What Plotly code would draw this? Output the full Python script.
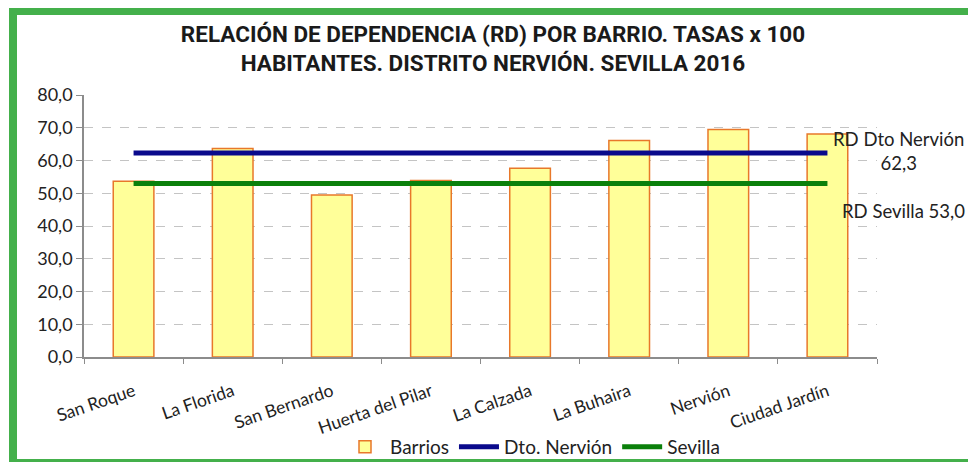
import plotly.graph_objects as go

# data
barrios = ["San Roque", "La Florida", "San Bernardo", "Huerta del Pilar",
           "La Calzada", "La Buhaira", "Nervión", "Ciudad Jardín"]
rd_barrios = [53.7, 63.7, 49.5, 53.9, 57.6, 66.1, 69.5, 68.1]
rd_nervion = 62.3
rd_sevilla = 53.0
y_ticks = [0, 10, 20, 30, 40, 50, 60, 70, 80]
y_tick_labels = ["0,0", "10,0", "20,0", "30,0", "40,0", "50,0", "60,0", "70,0", "80,0"]

# the page body adds an 8px margin, so the figure is a bit smaller than the window
OFF = 8
W, H = 976 - OFF, 462 - OFF
L, R, T, B = 84 - OFF, 99, 95 - OFF, 105
PW, PH = W - L - R, H - T - B


def px_x(x):
    # page pixel -> paper coordinate
    return (x - OFF - L) / PW


def px_y(y):
    return (H - B - (y - OFF)) / PH


font_body = "Lato, Carlito, Calibri, 'Open Sans', sans-serif"
green_frame = "#44B04B"

fig = go.Figure()
fig.add_trace(go.Bar(
    x=barrios, y=rd_barrios, name="Barrios", width=0.41,
    marker=dict(color="#FFFF99", line=dict(color="#E8782A", width=1.5)),
))
fig.add_trace(go.Scatter(
    x=barrios, y=[rd_nervion] * len(barrios), name="Dto. Nervión",
    mode="lines", line=dict(color="#0A0A8C", width=5),
))
fig.add_trace(go.Scatter(
    x=barrios, y=[rd_sevilla] * len(barrios), name="Sevilla",
    mode="lines", line=dict(color="#0B800B", width=5),
))

fig.update_layout(
    width=W, height=H,
    margin=dict(l=L, r=R, t=T, b=B, autoexpand=False),
    paper_bgcolor="white", plot_bgcolor="white",
    font=dict(family=font_body, size=17, color="#222222"),
    title=dict(
        text="RELACIÓN DE DEPENDENCIA (RD) POR BARRIO. TASAS x 100<br>"
             "HABITANTES. DISTRITO NERVIÓN. SEVILLA 2016",
        x=(493 - OFF) / W, xanchor="center", y=1 - (42 - OFF) / H, yanchor="top",
        font=dict(family="'Liberation Sans Narrow', 'Arial Narrow', Roboto, sans-serif",
                  size=22.5, color="#1a1a1a", weight="bold"),
    ),
    showlegend=True,
    legend=dict(orientation="h", x=px_x(533), xanchor="center",
                y=px_y(447), yanchor="middle",
                font=dict(size=19), itemwidth=40, tracegroupgap=0,
                bgcolor="rgba(0,0,0,0)"),
    bargap=0.59,
)
fig.update_xaxes(
    type="category", range=[-0.5, 7.5], automargin=False,
    showline=True, linecolor="#8C8C8C", linewidth=1.5,
    ticks="outside", ticklen=5, tickcolor="#8C8C8C", tickson="boundaries",
    tickangle=-19, ticklabelstandoff=16, showgrid=False,
    tickfont=dict(size=17.5),
)
fig.update_yaxes(
    range=[0, 80], tickvals=y_ticks, ticktext=y_tick_labels, automargin=False,
    showline=True, linecolor="#8C8C8C", linewidth=1.5,
    ticks="outside", ticklen=6, tickcolor="#8C8C8C",
    showgrid=True, gridcolor="#C4C4C4", griddash="dash", gridwidth=1,
    zeroline=False, tickfont=dict(size=18),
)

fig.add_annotation(text="RD Dto Nervión<br>62,3", xref="paper", yref="paper",
                   x=px_x(899), y=px_y(151), xanchor="center", yanchor="middle",
                   showarrow=False, font=dict(size=18.5), align="center")
fig.add_annotation(text="RD Sevilla 53,0", xref="paper", yref="paper",
                   x=px_x(903), y=px_y(211), xanchor="center", yanchor="middle",
                   showarrow=False, font=dict(size=18.5))

# green frame around the figure
fig.add_shape(type="rect", xref="paper", yref="paper", layer="above",
              x0=px_x(9), x1=px_x(17), y0=px_y(470), y1=px_y(0),
              fillcolor=green_frame, line_width=0)
fig.add_shape(type="rect", xref="paper", yref="paper", layer="above",
              x0=px_x(9), x1=px_x(990), y0=px_y(15), y1=px_y(7),
              fillcolor=green_frame, line_width=0)
fig.add_shape(type="rect", xref="paper", yref="paper", layer="above",
              x0=px_x(9), x1=px_x(990), y0=px_y(470), y1=px_y(459),
              fillcolor=green_frame, line_width=0)

fig.write_html("out.html")
